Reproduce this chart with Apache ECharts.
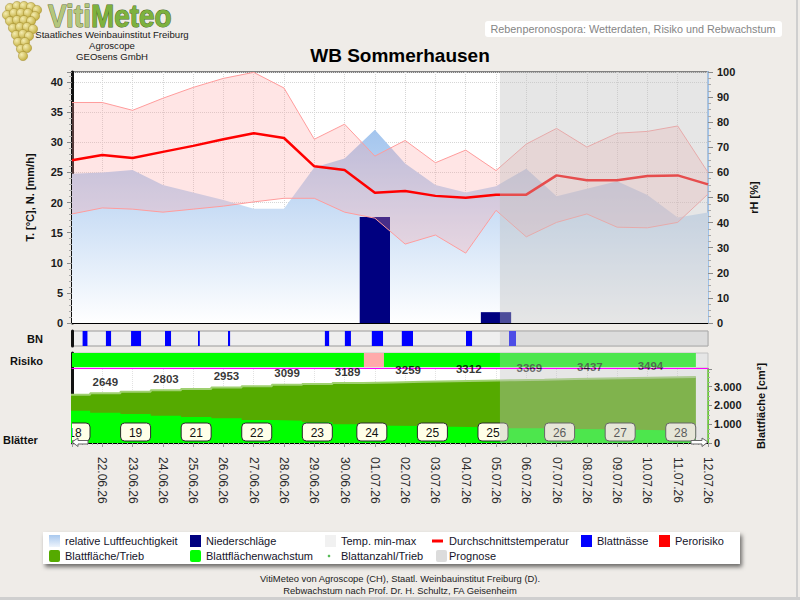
<!DOCTYPE html>
<html><head><meta charset="utf-8">
<script src="https://cdn.jsdelivr.net/npm/echarts@6/dist/echarts.min.js"></script>
<style>html,body{margin:0;padding:0;background:#efece8;}#c{width:800px;height:600px;}</style>
</head><body><div id="c"></div>
<script>
// ---- data ----
const dates = ['21.06.26','22.06.26','23.06.26','24.06.26','25.06.26','26.06.26','27.06.26','28.06.26','29.06.26','30.06.26','01.07.26','02.07.26','03.07.26','04.07.26','05.07.26','06.07.26','07.07.26','08.07.26','09.07.26','10.07.26','11.07.26','12.07.26'];
const relHumidity = [59.5,60,61,55,52,49,45.5,45.5,62,65.5,77,63.5,55,52,54.5,61.5,50.5,53.5,56.5,51,42,44];
const tempMax  = [36.6,36.6,35.3,37.3,39.1,40.6,41.6,39.0,30.5,33.0,27.7,30.3,26.6,28.7,25.3,29.7,32.3,29.2,31.5,31.8,32.7,25.0];
const tempMean = [27.0,27.9,27.4,28.4,29.4,30.5,31.5,30.7,26.0,25.4,21.6,21.9,21.1,20.8,21.3,21.3,24.5,23.7,23.7,24.4,24.5,23.0];
const tempMin  = [18.1,19.1,18.9,18.4,18.9,19.4,20.1,20.7,20.7,18.4,17.4,13.1,14.6,11.6,18.7,14.3,16.7,18.1,15.9,15.8,16.7,21.4];
const rain = [0,0,0,0,0,0,0,0,0,0,17.6,0,0,0,1.8,0,0,0,0,0,0,0];
const leafArea   = [2570,2649,2727,2803,2879,2953,3027,3099,3145,3189,3225,3259,3286,3312,3341,3369,3404,3437,3466,3494,3520];
const leafGrowth = [1720,1614,1545,1454,1385,1316,1225,1188,1103,996,922,906,868,836,783,783,746,730,709,677,666];
const leafAreaLabelDays = [1,3,5,7,9,11,13,15,17,19];
const leafCountPos = [0.1,2.1,4.1,6.1,8.1,9.9,11.9,13.9,16.1,18.1,20.1];
const leafCount = [18,19,21,22,23,24,25,25,26,27,28];
const leafWetness = [[0.35,0.51],[1.12,1.29],[1.95,2.28],[3.07,3.27],[4.16,4.22],[5.15,5.22],[8.35,8.49],[9.01,9.21],[9.9,10.27],[10.89,11.26],[13.01,13.21],[14.43,14.66]];
const riskSegments = [[0,9.64,0],[9.64,10.3,1],[10.3,20.6,0]];
const forecast = [[14.13,21]];
const tTicks = {min:0, max:41.66, interval:5};
const rhTicks = {min:0, max:100, interval:10};
const leafTicks = {min:0, max:3940, interval:1000};

// ---- chart ----
const chart = echarts.init(document.getElementById('c'), null, {renderer:'svg', width:800, height:600});
const FONT = 'Arial';
const G = {left:72, width:636};

function overlaySeries(xi, yi) {
  return {type:'custom', xAxisIndex:xi, yAxisIndex:yi, z:10, clip:true, silent:true,
    data: forecast,
    renderItem:(params, api) => {
      const a = api.coord([api.value(0), 0]), b = api.coord([api.value(1), 0]);
      const cs = params.coordSys;
      return {type:'rect', shape:{x:a[0], y:cs.y, width:b[0]-a[0], height:cs.height}, style:{fill:'rgba(192,192,192,0.4)'}};
    }};
}
function xAx(gi, extra) {
  return Object.assign({type:'value', gridIndex:gi, min:0, max:dates.length-1, interval:1,
    axisLabel:{show:false}, axisTick:{show:false}, axisLine:{show:false}, splitLine:{show:false}}, extra||{});
}
const hiddenY = (gi) => ({type:'value', gridIndex:gi, min:0, max:1, position:'left',
  axisLine:{show:true, onZero:false, lineStyle:{color:'#111', width:3}}, axisTick:{show:false}, axisLabel:{show:false}, splitLine:{show:false}});

const legendItems = [
  {x:49, y:541, icon:'grad', text:'relative Luftfeuchtigkeit'},
  {x:190, y:541, icon:'#000080', text:'Niederschläge'},
  {x:325, y:541, icon:'#f1f1f1', text:'Temp. min-max'},
  {x:432, y:541, icon:'line', text:'Durchschnittstemperatur', tx:449},
  {x:581, y:541, icon:'#0000ff', text:'Blattnässe'},
  {x:659, y:541, icon:'#ff0000', text:'Perorisiko'},
  {x:49, y:556, icon:'#55aa00', text:'Blattfläche/Trieb', r:2},
  {x:190, y:556, icon:'#00ff00', text:'Blattflächenwachstum', r:2},
  {x:325, y:556, icon:'dot', text:'Blattanzahl/Trieb'},
  {x:436, y:556, icon:'#dcdcdc', text:'Prognose', tx:449, r:2}
];

const graphics = [];
// page border
graphics.push({type:'rect', shape:{x:796, y:0, width:2, height:600}, style:{fill:'#cfcfcf'}});
graphics.push({type:'rect', shape:{x:0, y:597, width:800, height:3}, style:{fill:'#cfcfcf'}});
// logo grapes
[[10,8],[17,6],[24,6],[31,7],[37,10],[7,15],[14,13],[21,13],[28,13],[35,16],[10,21],[17,20],[24,20],[31,21],[13,28],[20,27],[27,27],[33,29],[16,35],[23,34],[29,36],[18,42],[25,42],[21,49],[27,48],[23,56]].forEach(p=>{
  graphics.push({type:'circle', shape:{cx:p[0], cy:p[1], r:4.6}, style:{fill:new echarts.graphic.RadialGradient(0.35,0.35,0.7,[{offset:0,color:'#f4ecb0'},{offset:1,color:'#c2ad3c'}]), stroke:'#a08a2c', lineWidth:0.5}});
});
graphics.push({type:'text', x:48, y:16, scaleX:0.9, style:{text:'{a|Viti}{b|Meteo}', verticalAlign:'middle',
  rich:{a:{fontSize:31, fontWeight:'bold', fontFamily:FONT, fill:'#b4c67c', stroke:'#5e6e36', lineWidth:1},
        b:{fontSize:31, fontWeight:'bold', fontFamily:FONT, fill:'#7db23e', stroke:'#46661e', lineWidth:1}}}});
['Staatliches Weinbauinstitut Freiburg','Agroscope','GEOsens GmbH'].forEach((t,i)=>{
  graphics.push({type:'text', x:112, y:34+i*11, style:{text:t, fontSize:9.6, fontFamily:FONT, fill:'#1a1a1a', align:'center', verticalAlign:'middle'}});
});
// subtitle box
graphics.push({type:'rect', shape:{x:485, y:21, width:297, height:16, r:3}, style:{fill:'#ffffff'}});
graphics.push({type:'text', x:633, y:29, style:{text:'Rebenperonospora: Wetterdaten, Risiko und Rebwachstum', fontSize:10.8, fontFamily:FONT, fill:'#858585', align:'center', verticalAlign:'middle'}});
// row labels
graphics.push({type:'text', x:43, y:338.5, style:{text:'BN', fontSize:11, fontWeight:'bold', fontFamily:FONT, fill:'#111', align:'right', verticalAlign:'middle'}});
graphics.push({type:'text', x:43, y:360.5, style:{text:'Risiko', fontSize:11, fontWeight:'bold', fontFamily:FONT, fill:'#111', align:'right', verticalAlign:'middle'}});
graphics.push({type:'text', x:3, y:440, style:{text:'Blätter', fontSize:11, fontWeight:'bold', fontFamily:FONT, fill:'#111', align:'left', verticalAlign:'middle'}});
// scroll arrows
graphics.push({type:'polygon', z:100, shape:{points:[[72,442],[78,438],[78,440.5],[88,440.5],[88,444],[78,444],[78,446.5]]}, style:{fill:'#fff', stroke:'#666', lineWidth:1}});
graphics.push({type:'polygon', z:100, shape:{points:[[708,442],[702,438],[702,440.5],[691,440.5],[691,444],[702,444],[702,446.5]]}, style:{fill:'#fff', stroke:'#666', lineWidth:1}});
// legend box
graphics.push({type:'rect', shape:{x:43, y:532, width:697, height:32}, style:{fill:'#ffffff', shadowColor:'rgba(0,0,0,0.55)', shadowBlur:4, shadowOffsetX:2, shadowOffsetY:3}});
legendItems.forEach(it=>{
  if (it.icon === 'grad') {
    graphics.push({type:'rect', shape:{x:it.x, y:it.y-6, width:11, height:12}, style:{fill:new echarts.graphic.LinearGradient(0,0,0,1,[{offset:0,color:'#a8c8ee'},{offset:1,color:'#eef4fc'}])}});
  } else if (it.icon === 'line') {
    graphics.push({type:'rect', shape:{x:it.x, y:it.y-1.5, width:11, height:3}, style:{fill:'#ff0000'}});
  } else if (it.icon === 'dot') {
    graphics.push({type:'circle', shape:{cx:it.x+4, cy:it.y, r:1.3}, style:{fill:'#55bb55'}});
  } else {
    graphics.push({type:'rect', shape:{x:it.x, y:it.y-6, width:11, height:12, r:it.r||0}, style:{fill:it.icon}});
  }
  graphics.push({type:'text', x:it.tx || (it.x+16), y:it.y, style:{text:it.text, fontSize:11, fontFamily:FONT, fill:'#14142a', align:'left', verticalAlign:'middle'}});
});
// footer
graphics.push({type:'text', x:400, y:578, style:{text:'VitiMeteo von Agroscope (CH), Staatl. Weinbauinstitut Freiburg (D).', fontSize:9.4, fontFamily:FONT, fill:'#222', align:'center', verticalAlign:'middle'}});
graphics.push({type:'text', x:400, y:590.5, style:{text:'Rebwachstum nach Prof. Dr. H. Schultz, FA Geisenheim', fontSize:9.4, fontFamily:FONT, fill:'#222', align:'center', verticalAlign:'middle'}});

const axisLabelBold = {fontSize:11, fontWeight:'bold', color:'#1a1a1a', fontFamily:FONT};
const stepData = arr => arr.map((v,i)=>[i-0.4, v]).concat([[arr.length-0.4, arr[arr.length-1]]]);

const option = {
  animation:false,
  backgroundColor:'#efece8',
  textStyle:{fontFamily:FONT},
  title:{text:'WB Sommerhausen', left:'center', top:41, textStyle:{fontSize:19, fontWeight:'bold', color:'#000', fontFamily:FONT}},
  graphic: graphics,
  grid:[
    {left:G.left, width:G.width, top:72, height:251, show:true, backgroundColor:'#ffffff', borderColor:'#808080', borderWidth:2, outerBoundsMode:'none'},
    {left:G.left, width:G.width, top:331, height:15, show:true, backgroundColor:'#efefef', borderColor:'#9a9a9a', borderWidth:1, outerBoundsMode:'none'},
    {left:G.left, width:G.width, top:353, height:15, show:true, backgroundColor:'#ffffff', borderColor:'#c4c4c4', borderWidth:1, outerBoundsMode:'none'},
    {left:G.left, width:G.width, top:369, height:74, show:true, backgroundColor:'#ffffff', borderWidth:0, outerBoundsMode:'none'}
  ],
  xAxis:[
    xAx(0, {axisLine:{show:true, onZero:false, lineStyle:{color:'#000', width:1}}, splitLine:{show:true, lineStyle:{type:'dotted', color:'#d6d6d6'}}}),
    xAx(1),
    xAx(2, {axisLine:{show:true, onZero:false, lineStyle:{color:'#ff00ff', width:1}}}),
    xAx(3, {axisLine:{show:true, onZero:false, lineStyle:{color:'#000', width:1}},
      splitLine:{show:true, lineStyle:{type:'dotted', color:'#e2e2e2'}},
      axisTick:{show:true, length:4, lineStyle:{color:'#999'}},
      minorTick:{show:true, splitNumber:6, length:2, lineStyle:{color:'#aaa'}},
      axisLabel:{show:true, rotate:-90, margin:14, fontSize:12, color:'#2a2a2a', fontFamily:FONT,
        showMinLabel:true, showMaxLabel:true,
        formatter:v => (v >= 1 && Number.isInteger(v)) ? dates[v] : ''}})
  ],
  yAxis:[
    {type:'value', gridIndex:0, position:'left', min:tTicks.min, max:tTicks.max, interval:tTicks.interval,
      name:'T. [°C], N. [mm/h]', nameLocation:'middle', nameGap:37, nameMoveOverlap:false,
      nameTextStyle:{fontSize:11, fontWeight:'bold', color:'#111', fontFamily:FONT},
      axisLine:{show:true, onZero:false, lineStyle:{color:'#111', width:3}},
      axisTick:{show:true, length:5, lineStyle:{color:'#8a8a8a'}},
      minorTick:{show:true, splitNumber:5, length:3, lineStyle:{color:'#a8a8a8'}},
      axisLabel:Object.assign({margin:9, showMaxLabel:false}, axisLabelBold),
      splitLine:{show:true, lineStyle:{type:'dotted', color:'#d6d6d6'}}},
    {type:'value', gridIndex:0, position:'right', min:rhTicks.min, max:rhTicks.max, interval:rhTicks.interval,
      name:'rH [%]', nameLocation:'middle', nameGap:40, nameRotate:90, nameMoveOverlap:false,
      nameTextStyle:{fontSize:11, fontWeight:'bold', color:'#111', fontFamily:FONT},
      axisLine:{show:true, onZero:false, lineStyle:{color:'#9ec2ea', width:2}},
      axisTick:{show:true, length:5, lineStyle:{color:'#8a8a8a'}},
      minorTick:{show:true, splitNumber:4, length:3, lineStyle:{color:'#a8a8a8'}},
      axisLabel:Object.assign({margin:9}, axisLabelBold),
      splitLine:{show:false}},
    hiddenY(1),
    hiddenY(2),
    hiddenY(3),
    {type:'value', gridIndex:3, position:'right', min:leafTicks.min, max:leafTicks.max, interval:leafTicks.interval,
      name:'Blattfläche [cm²]', nameLocation:'middle', nameGap:47, nameRotate:90, nameMoveOverlap:false,
      nameTextStyle:{fontSize:11, fontWeight:'bold', color:'#111', fontFamily:FONT},
      axisLine:{show:true, onZero:false, lineStyle:{color:'#66cc33', width:2}},
      axisTick:{show:true, length:4, lineStyle:{color:'#8a8a8a'}},
      minorTick:{show:true, splitNumber:4, length:2, lineStyle:{color:'#a8a8a8'}},
      axisLabel:Object.assign({margin:6, showMaxLabel:false, formatter:v => v >= 1000 ? (Math.floor(v/1000) + '.' + String(v%1000).padStart(3,'0')) : String(v)}, axisLabelBold),
      splitLine:{show:false}}
  ],
  series:[
    {name:'relative Luftfeuchtigkeit', type:'line', xAxisIndex:0, yAxisIndex:1, z:1, symbol:'none',
      data: relHumidity.map((v,i)=>[i,v]), lineStyle:{opacity:0},
      areaStyle:{opacity:1, color:new echarts.graphic.LinearGradient(0,0,0,1,[{offset:0,color:'#a3c5ee'},{offset:1,color:'#ffffff'}])}},
    {name:'Niederschläge', type:'custom', xAxisIndex:0, yAxisIndex:0, z:2, clip:true,
      data: rain.map((v,i)=>[i,v]),
      renderItem:(params, api) => {
        const i = api.value(0), v = api.value(1);
        if (!v) return null;
        const a = api.coord([i-0.5, v]), b = api.coord([i+0.5, 0]);
        return {type:'rect', shape:{x:a[0], y:a[1], width:b[0]-a[0], height:b[1]-a[1]}, style:{fill:'#000080'}};
      }},
    {name:'Temp. min-max', type:'custom', xAxisIndex:0, yAxisIndex:0, z:3, clip:true,
      data: [[0, tempMin[0]]],
      renderItem:(params, api) => {
        const pts = [];
        tempMax.forEach((v,i)=>pts.push(api.coord([i, v])));
        for (let i = tempMin.length-1; i >= 0; i--) pts.push(api.coord([i, tempMin[i]]));
        return {type:'polygon', shape:{points:pts}, style:{fill:'rgba(255,160,160,0.28)'}};
      }},
    {name:'Tmin', type:'line', xAxisIndex:0, yAxisIndex:0, z:3, symbol:'none',
      data: tempMin.map((v,i)=>[i,v]), lineStyle:{color:'#ff9c9c', width:1}},
    {name:'Tmax', type:'line', xAxisIndex:0, yAxisIndex:0, z:3, symbol:'none',
      data: tempMax.map((v,i)=>[i,v]), lineStyle:{color:'#ff9c9c', width:1}},
    {name:'Durchschnittstemperatur', type:'line', xAxisIndex:0, yAxisIndex:0, z:4, symbol:'none',
      data: tempMean.map((v,i)=>[i,v]), lineStyle:{color:'#ff0000', width:2.5}},
    overlaySeries(0,0),
    {name:'Blattnässe', type:'custom', xAxisIndex:1, yAxisIndex:2, z:2, clip:true, data: leafWetness,
      renderItem:(params, api) => {
        const a = api.coord([api.value(0), 1]), b = api.coord([api.value(1), 0]);
        return {type:'rect', shape:{x:a[0], y:a[1], width:Math.max(1.5, b[0]-a[0]), height:b[1]-a[1]}, style:{fill:'#0000ff'}};
      }},
    overlaySeries(1,2),
    {name:'Perorisiko', type:'custom', xAxisIndex:2, yAxisIndex:3, z:2, clip:true, data: riskSegments,
      renderItem:(params, api) => {
        const a = api.coord([api.value(0), 1]), b = api.coord([api.value(1), 0]);
        return {type:'rect', shape:{x:a[0], y:a[1], width:b[0]-a[0], height:b[1]-a[1]-1}, style:{fill: api.value(2) ? '#ffaaaa' : '#00ff00'}};
      }},
    overlaySeries(2,3),
    {name:'Blattfläche/Trieb', type:'line', xAxisIndex:3, yAxisIndex:5, z:2, step:'end', symbol:'none',
      data: stepData(leafArea), lineStyle:{color:'#9fd070', width:2}, areaStyle:{color:'#55aa00', opacity:1}},
    {name:'Blattflächenwachstum', type:'line', xAxisIndex:3, yAxisIndex:5, z:3, step:'end', symbol:'none',
      data: stepData(leafGrowth), lineStyle:{opacity:0}, areaStyle:{color:'#00ff00', opacity:1}},
    {name:'Blattfläche Werte', type:'scatter', xAxisIndex:3, yAxisIndex:5, z:4, symbolSize:1, itemStyle:{color:'rgba(0,0,0,0)'},
      data: leafAreaLabelDays.map(d => [d+0.1, leafArea[d]]),
      label:{show:true, position:'top', distance:5, formatter:p => String(p.value[1]), fontSize:11.5, fontWeight:'bold', color:'#000', fontFamily:FONT}},
    {name:'Blattanzahl/Trieb', type:'custom', xAxisIndex:3, yAxisIndex:5, z:5, clip:true,
      data: leafCountPos.map((x,i)=>[x, leafCount[i]]),
      renderItem:(params, api) => {
        const p = api.coord([api.value(0), 0]);
        return {type:'group', children:[
          {type:'rect', shape:{x:p[0]-15, y:p[1]-20, width:30, height:18, r:4}, style:{fill:'#ffffe8', stroke:'#2a2a2a', lineWidth:1}},
          {type:'text', style:{text:String(api.value(1)), x:p[0], y:p[1]-10.5, align:'center', verticalAlign:'middle', fontSize:12, fontFamily:FONT, fill:'#111'}}
        ]};
      }},
    overlaySeries(3,5)
  ]
};
chart.setOption(option);
</script></body></html>
